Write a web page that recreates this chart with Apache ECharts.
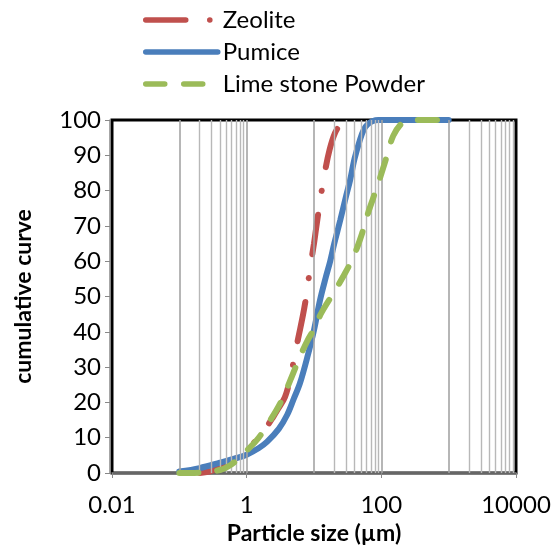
<!DOCTYPE html>
<html>
<head>
<meta charset="utf-8">
<script src="https://cdn.jsdelivr.net/npm/echarts@6/dist/echarts.min.js"></script>
<style>html,body{margin:0;padding:0;background:#fff}#c{width:553px;height:545px}</style>
</head>
<body>
<div id="c"></div>
<script>
// ---- data ----
const seriesNames = ['Zeolite', 'Pumice', 'Lime stone Powder'];

const zeoliteSize = [0.2, 0.3, 0.5, 0.8, 1.2, 1.8, 2.5, 3, 3.7, 4.4, 5.1, 5.8, 6.9, 7.8, 8.75, 10, 10.7, 12.3, 14.6, 17, 20.5, 25, 30, 38];
const zeoliteCum  = [0, 0.6, 2.5, 5, 8, 12, 16, 18.5, 21.5, 26.6, 32.6, 38, 45, 51, 58, 65, 69, 77, 85.5, 91.5, 96.3, 98.8, 99.7, 100];

const pumiceSize = [0.1, 0.2, 0.4, 0.7, 1, 1.5, 2, 3, 4, 5, 6.2, 8, 10, 12.3, 15, 17.4, 20, 24.6, 30, 34.4, 40, 48.4, 55, 62, 75, 90, 150, 1000];
const pumiceCum  = [0.4, 1.4, 2.9, 4.2, 5.2, 7, 8.8, 12.5, 16.5, 21, 25.5, 33, 40.5, 49, 55.5, 60, 65, 71.7, 78.5, 83, 89, 94.5, 97.3, 98.7, 99.7, 100, 100, 100];

const limeSize = [0.1, 0.2, 0.4, 0.6, 0.8, 1.41, 2, 3.16, 4.5, 6.2, 8, 9.8, 13, 19.5, 27, 38, 50, 61, 76, 90, 101, 120, 150, 200, 270, 1000];
const limeCum  = [0, 0.1, 0.85, 2.5, 4.6, 9.3, 13.5, 19.8, 26.5, 33, 37.5, 40.5, 45.5, 51, 55.6, 61, 67, 72.6, 78, 82, 85, 89.6, 95.5, 99, 100, 100];

const majorGrid = [0.1, 1, 10, 100, 1000];
const minorGrid = [0.2, 0.3, 0.4, 0.5, 0.6, 0.7, 0.8, 0.9,
                   20, 30, 40, 50, 60, 70, 80, 90,
                   2000, 3000, 4000, 5000, 6000, 7000, 8000, 9000];

const xTickLabels = ['0.01', '1', '100', '10000'];

const zip = (a, b) => a.map((v, i) => [v, b[i]]);
const FONT = 'Lato';
const FS = 24;

const chart = echarts.init(document.getElementById('c'), null, {renderer: 'canvas'});
chart.setOption({
  animation: false,
  textStyle: {fontFamily: FONT},
  legend: {
    data: seriesNames,
    orient: 'vertical',
    left: 138, top: 2,
    padding: 5,
    itemWidth: 72, itemHeight: 14, itemGap: 6,
    itemStyle: {opacity: 0},
    lineStyle: {width: 5.5, cap: 'round'},
    textStyle: {fontFamily: FONT, fontSize: FS, color: '#000', lineHeight: 26}
  },
  grid: {left: 112, right: 37, top: 120, bottom: 72, containLabel: false, outerBoundsMode: 'none',
         show: true, borderColor: '#000', borderWidth: 3, backgroundColor: 'transparent'},
  xAxis: {
    type: 'log', logBase: 10, min: 0.01, max: 10000, interval: 2,
    offset: 3,
    name: 'Particle size (µm)', nameLocation: 'middle', nameGap: 46,
    nameTextStyle: {fontFamily: FONT, fontSize: 23, fontWeight: 'bold', color: '#000'},
    axisLine: {show: true, lineStyle: {color: '#888', width: 1.5}},
    axisTick: {show: true, inside: false, length: 5, lineStyle: {color: '#888'}},
    axisLabel: {fontFamily: FONT, fontSize: FS, color: '#000', margin: 17,
      formatter: v => { const s = String(Number(v.toPrecision(6))); return xTickLabels.includes(s) ? s : ''; }},
    splitLine: {show: false}, minorTick: {show: false}
  },
  yAxis: {
    type: 'value', min: 0, max: 100, interval: 10,
    offset: 2,
    name: 'cumulative curve', nameLocation: 'middle', nameGap: 75, nameRotate: 90,
    nameTextStyle: {fontFamily: FONT, fontSize: 23, fontWeight: 'bold', color: '#000'},
    axisLine: {show: true, lineStyle: {color: '#888', width: 1.5}},
    axisTick: {show: true, inside: false, length: 5, lineStyle: {color: '#888'}},
    axisLabel: {fontFamily: FONT, fontSize: FS, color: '#000', margin: 9},
    splitLine: {show: false}
  },
  series: [
    {
      name: '_grid', type: 'line', data: [], z: 1, silent: true,
      markLine: {
        silent: true, symbol: ['none', 'none'], label: {show: false},
        lineStyle: {color: '#b8b8b8', width: 1.4, type: 'solid'},
        animation: false,
        data: majorGrid.map(v => ({xAxis: v, lineStyle: {color: '#a4a4a4', width: 1.6, type: 'solid'}}))
              .concat(minorGrid.map(v => ({xAxis: v})))
      }
    },
    {
      name: seriesNames[0], type: 'line', smooth: 0.35, showSymbol: false, symbol: 'none', z: 3,
      data: zip(zeoliteSize, zeoliteCum),
      itemStyle: {color: '#c0504d'},
      lineStyle: {color: '#c0504d', width: 6, type: [40, 24, 0.1, 24], cap: 'round'}
    },
    {
      name: seriesNames[1], type: 'line', smooth: 0.35, showSymbol: false, symbol: 'none', z: 4,
      data: zip(pumiceSize, pumiceCum),
      itemStyle: {color: '#4a7ebb'},
      lineStyle: {color: '#4a7ebb', width: 6, type: 'solid', cap: 'round'}
    },
    {
      name: seriesNames[2], type: 'line', smooth: 0.35, showSymbol: false, symbol: 'none', z: 5,
      data: zip(limeSize, limeCum),
      itemStyle: {color: '#9bbb59'},
      lineStyle: {color: '#9bbb59', width: 6, type: [19, 19], cap: 'round'}
    }
  ]
});
</script>
</body>
</html>
